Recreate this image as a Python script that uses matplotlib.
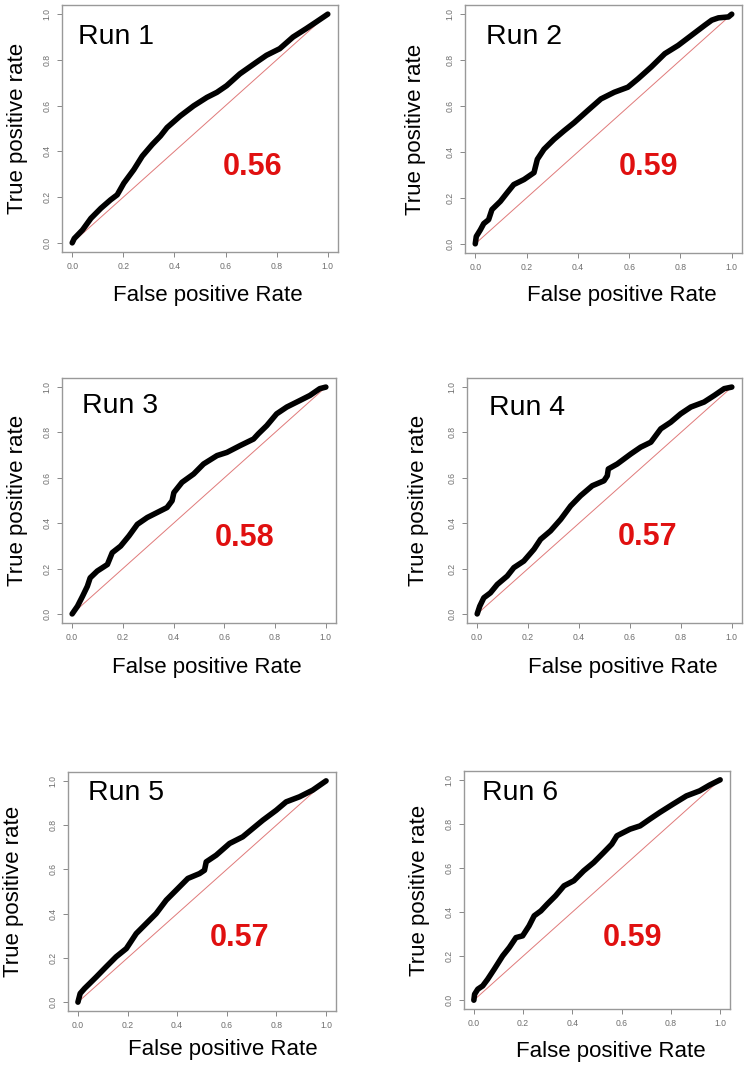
import numpy as np
import matplotlib.pyplot as plt

plt.rcParams['font.family'] = ['Liberation Sans', 'DejaVu Sans']

fpr_run1 = [0, 0.008, 0.04, 0.073, 0.112, 0.15, 0.176, 0.202, 0.241, 0.274, 0.313, 0.345, 0.371,
            0.423, 0.475, 0.527, 0.566, 0.604, 0.656, 0.721, 0.76, 0.812, 0.864, 0.916, 0.955, 1]
tpr_run1 = [0, 0.019, 0.056, 0.107, 0.151, 0.188, 0.21, 0.261, 0.32, 0.379, 0.43, 0.467, 0.504,
            0.555, 0.599, 0.636, 0.658, 0.687, 0.739, 0.79, 0.82, 0.849, 0.9, 0.937, 0.966, 1]

fpr_run2 = [0, 0.004, 0.02, 0.033, 0.052, 0.065, 0.098, 0.124, 0.15, 0.19, 0.229, 0.242, 0.268,
            0.307, 0.346, 0.386, 0.438, 0.49, 0.542, 0.595, 0.634, 0.686, 0.739, 0.791, 0.843,
            0.895, 0.922, 0.948, 0.987, 1]
tpr_run2 = [0, 0.032, 0.061, 0.088, 0.105, 0.149, 0.185, 0.222, 0.258, 0.28, 0.31, 0.368, 0.412,
            0.455, 0.492, 0.528, 0.58, 0.631, 0.66, 0.682, 0.718, 0.77, 0.828, 0.864, 0.908,
            0.952, 0.974, 0.984, 0.988, 1]

fpr_run3 = [0, 0.021, 0.041, 0.06, 0.071, 0.099, 0.139, 0.158, 0.191, 0.224, 0.257, 0.296, 0.335,
            0.374, 0.394, 0.401, 0.433, 0.479, 0.518, 0.571, 0.61, 0.662, 0.715, 0.734, 0.767,
            0.806, 0.846, 0.898, 0.937, 0.976, 1]
tpr_run3 = [0, 0.034, 0.078, 0.122, 0.159, 0.189, 0.218, 0.27, 0.299, 0.344, 0.395, 0.425, 0.447,
            0.469, 0.499, 0.535, 0.58, 0.617, 0.661, 0.698, 0.712, 0.742, 0.771, 0.794, 0.83,
            0.882, 0.912, 0.941, 0.963, 0.993, 1]

fpr_run4 = [0, 0.01, 0.026, 0.052, 0.079, 0.118, 0.144, 0.183, 0.223, 0.249, 0.288, 0.328, 0.367,
            0.406, 0.452, 0.498, 0.511, 0.515, 0.55, 0.603, 0.642, 0.682, 0.721, 0.76, 0.799,
            0.839, 0.891, 0.931, 0.97, 1]
tpr_run4 = [0, 0.034, 0.071, 0.093, 0.13, 0.167, 0.204, 0.233, 0.285, 0.329, 0.366, 0.417, 0.476,
            0.521, 0.565, 0.587, 0.609, 0.639, 0.661, 0.705, 0.735, 0.757, 0.816, 0.845, 0.882,
            0.912, 0.934, 0.963, 0.993, 1]

fpr_run5 = [0, 0.009, 0.027, 0.047, 0.074, 0.114, 0.154, 0.195, 0.235, 0.275, 0.315, 0.356, 0.396,
            0.443, 0.49, 0.51, 0.517, 0.557, 0.611, 0.664, 0.705, 0.745, 0.799, 0.839, 0.893,
            0.946, 1]
tpr_run5 = [0, 0.039, 0.062, 0.084, 0.114, 0.16, 0.205, 0.242, 0.31, 0.355, 0.4, 0.461, 0.506,
            0.559, 0.581, 0.596, 0.634, 0.664, 0.717, 0.747, 0.785, 0.822, 0.867, 0.905, 0.928,
            0.958, 1]

fpr_run6 = [0, 0.003, 0.016, 0.036, 0.056, 0.083, 0.117, 0.144, 0.171, 0.198, 0.224, 0.245, 0.272,
            0.298, 0.332, 0.366, 0.406, 0.446, 0.487, 0.527, 0.56, 0.581, 0.634, 0.675, 0.715,
            0.755, 0.809, 0.863, 0.917, 0.957, 1]
tpr_run6 = [0, 0.027, 0.05, 0.065, 0.095, 0.141, 0.201, 0.239, 0.284, 0.292, 0.337, 0.383, 0.405,
            0.436, 0.474, 0.519, 0.542, 0.587, 0.625, 0.67, 0.708, 0.746, 0.776, 0.791, 0.822,
            0.852, 0.89, 0.927, 0.95, 0.976, 1]

nomes_runs = ['Run 1', 'Run 2', 'Run 3', 'Run 4', 'Run 5', 'Run 6']
auc_textos = ['0.56', '0.59', '0.58', '0.57', '0.57', '0.59']
ticks = [0.0, 0.2, 0.4, 0.6, 0.8, 1.0]
tick_labels = ['0.0', '0.2', '0.4', '0.6', '0.8', '1.0']

curvas = [(fpr_run1, tpr_run1), (fpr_run2, tpr_run2), (fpr_run3, tpr_run3),
          (fpr_run4, tpr_run4), (fpr_run5, tpr_run5), (fpr_run6, tpr_run6)]

# layout (pixels: esquerda, topo, direita, baixo)
W, H = 747, 1068
caixas = [(62, 5, 338, 252), (465, 5, 742, 253),
          (62, 378, 336, 623), (467, 378, 742, 623),
          (68, 772, 336, 1011), (464, 771, 730, 1009)]
pos_run = [(0.058, 0.87), (0.076, 0.871), (0.073, 0.886), (0.08, 0.878), (0.075, 0.912), (0.068, 0.908)]
pos_auc = [(0.692, 0.344), (0.664, 0.347), (0.668, 0.347), (0.658, 0.351), (0.642, 0.305), (0.632, 0.298)]
pos_xlab = [(0.529, -0.178), (0.567, -0.173), (0.53, -0.18), (0.565, -0.18), (0.578, -0.163), (0.553, -0.18)]
pos_ylab = [-0.163, -0.177, -0.163, -0.178, -0.205, -0.169]

fig = plt.figure(figsize=(W / 100, H / 100), dpi=100)

for i in range(6):
    l, t, r, b = caixas[i]
    ax = fig.add_axes([l / W, 1 - b / H, (r - l) / W, (b - t) / H])
    fpr, tpr = curvas[i]

    # diagonal de referencia + curva ROC
    ax.plot([0, 1], [0, 1], color='#e07a7a', lw=0.7, zorder=2)
    ax.plot(fpr, tpr, color='black', lw=4.0, solid_capstyle='round',
            solid_joinstyle='round', zorder=3)

    ax.set_xlim(-0.04, 1.04)
    ax.set_ylim(-0.04, 1.04)
    ax.set_xticks(ticks)
    ax.set_xticklabels(tick_labels)
    ax.set_yticks(ticks)
    ax.set_yticklabels(tick_labels, rotation=90, va='center')
    ax.tick_params(direction='out', length=3.5, width=0.7, color='#888888',
                   labelcolor='#6e6e6e', labelsize=6.2, pad=4)
    for s in ax.spines.values():
        s.set_color('#999999')
        s.set_linewidth(1.0)

    ax.text(pos_run[i][0], pos_run[i][1], nomes_runs[i], transform=ax.transAxes,
            fontsize=20.5, ha='left', va='center')
    ax.text(pos_auc[i][0], pos_auc[i][1], auc_textos[i], transform=ax.transAxes,
            fontsize=22, fontweight='bold', color='#e01010', ha='center', va='center')
    ax.text(pos_xlab[i][0], pos_xlab[i][1], 'False positive Rate', transform=ax.transAxes,
            fontsize=16, ha='center', va='center')
    ax.text(pos_ylab[i], 0.5, 'True positive rate', transform=ax.transAxes,
            fontsize=16, rotation=90, ha='center', va='center')

fig.savefig('out.png', dpi=100)
